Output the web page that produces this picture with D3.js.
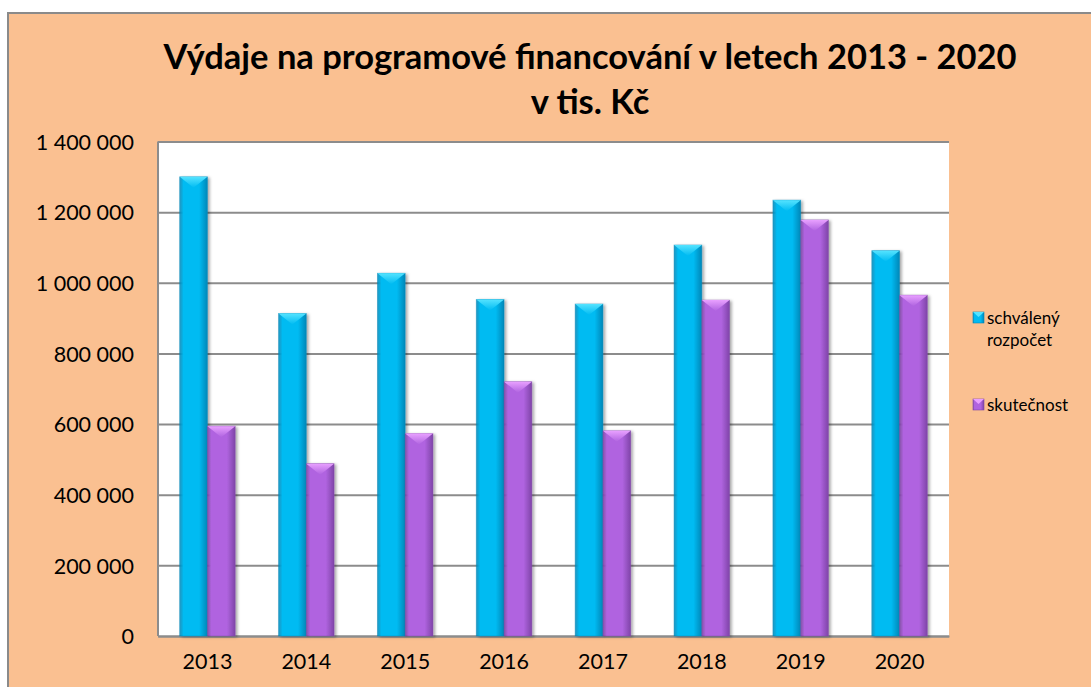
<!DOCTYPE html>
<html lang="cs">
<head>
<meta charset="utf-8">
<title>Výdaje na programové financování</title>
<script src="https://d3js.org/d3.v7.min.js"></script>
<style>
  body { margin: 0; background: #fff; font-family: Lato, "Open Sans", sans-serif; }
  svg text { font-family: Lato, "Open Sans", sans-serif; fill: #000; }
</style>
</head>
<body>
<div id="chart"></div>
<script>
// data (tis. Kč)
var years = ["2013", "2014", "2015", "2016", "2017", "2018", "2019", "2020"];
var schvaleny = [1300000, 913000, 1027000, 953000, 940000, 1107000, 1234000, 1091000];
var skutecnost = [594000, 488000, 573000, 720000, 581000, 951000, 1178000, 965000];
var yTicks = [0, 200000, 400000, 600000, 800000, 1000000, 1200000, 1400000];
var seriesNames = ["schválený rozpočet", "skutečnost"];

var W = 1091, H = 687;
var plot = { left: 158, right: 949, top: 141.5, bottom: 636 };

var series = [
  { name: seriesNames[0], values: schvaleny, main: "#00bbf2", dark: "#0087b8", light: "#55e3ff" },
  { name: seriesNames[1], values: skutecnost, main: "#b064e0", dark: "#7f44a8", light: "#e8a0ff" }
];

var svg = d3.select("#chart").append("svg")
  .attr("width", W).attr("height", H);

var defs = svg.append("defs");
series.forEach(function (s, i) {
  var g = defs.append("linearGradient").attr("id", "bar" + i)
    .attr("x1", 0).attr("x2", 1).attr("y1", 0).attr("y2", 0);
  g.append("stop").attr("offset", "0%").attr("stop-color", s.dark).attr("stop-opacity", 0.85);
  g.append("stop").attr("offset", "14%").attr("stop-color", s.main);
  g.append("stop").attr("offset", "70%").attr("stop-color", s.main);
  g.append("stop").attr("offset", "100%").attr("stop-color", s.dark);
  var t = defs.append("linearGradient").attr("id", "top" + i)
    .attr("x1", 0).attr("x2", 0).attr("y1", 0).attr("y2", 1);
  t.append("stop").attr("offset", "0%").attr("stop-color", s.light);
  t.append("stop").attr("offset", "100%").attr("stop-color", s.main);
});
var sh = defs.append("filter").attr("id", "shadow")
  .attr("x", "-30%").attr("y", "-10%").attr("width", "160%").attr("height", "120%");
sh.append("feDropShadow").attr("dx", 2).attr("dy", 1).attr("stdDeviation", 1.6)
  .attr("flood-color", "#000").attr("flood-opacity", 0.35);

// chart area background
svg.append("rect")
  .attr("x", 8).attr("y", 13).attr("width", W).attr("height", H)
  .attr("fill", "#fac091").attr("stroke", "#8a8a8a").attr("stroke-width", 2);

// title
svg.append("text").attr("x", 590).attr("y", 69)
  .attr("text-anchor", "middle").attr("font-size", 34.5).attr("font-weight", "bold")
  .text("Výdaje na programové financování v letech 2013 - 2020");
svg.append("text").attr("x", 590).attr("y", 114)
  .attr("text-anchor", "middle").attr("font-size", 34.5).attr("font-weight", "bold")
  .text("v tis. Kč");

var x = d3.scaleBand().domain(years).range([plot.left, plot.right]);
var xs = d3.scaleBand().domain([0, 1]).range([0, x.bandwidth()]).paddingOuter(0.78).paddingInner(0);
var y = d3.scaleLinear().domain([0, 1400000]).range([plot.bottom, plot.top]);

svg.append("rect")
  .attr("x", plot.left).attr("y", plot.top)
  .attr("width", plot.right - plot.left).attr("height", plot.bottom - plot.top)
  .attr("fill", "#fff");

var fmt = function (d) { return d3.format(",")(d).replace(/,/g, " "); };

var yAxis = svg.append("g")
  .attr("transform", "translate(" + plot.left + ",0)")
  .call(d3.axisLeft(y).tickValues(yTicks).tickSize(-(plot.right - plot.left)).tickPadding(24).tickFormat(fmt));
yAxis.select(".domain").remove();
yAxis.selectAll(".tick line").attr("stroke", "#8c8c8c").attr("stroke-width", 2);
yAxis.selectAll(".tick text").attr("font-size", 21.5).attr("dy", "0.36em");

svg.append("line")
  .attr("x1", plot.left).attr("x2", plot.left)
  .attr("y1", plot.top).attr("y2", plot.bottom)
  .attr("stroke", "#8c8c8c").attr("stroke-width", 2);

var xAxis = svg.append("g")
  .attr("transform", "translate(0," + plot.bottom + ")")
  .call(d3.axisBottom(x).tickSize(0).tickPadding(18));
xAxis.select(".domain").attr("stroke", "#8c8c8c").attr("stroke-width", 2);
xAxis.selectAll(".tick text").attr("font-size", 21.5).attr("dy", "0.71em");

// bars
series.forEach(function (s, si) {
  var g = svg.append("g");
  var bars = g.selectAll("g.bar").data(years.map(function (yr, i) { return { year: yr, v: s.values[i] }; }))
    .enter().append("g").attr("class", "bar");
  var bw = xs.bandwidth();
  bars.append("rect")
    .attr("x", function (d) { return x(d.year) + xs(si); })
    .attr("y", function (d) { return y(d.v); })
    .attr("width", bw)
    .attr("height", function (d) { return y(0) - y(d.v); })
    .attr("fill", "url(#bar" + si + ")")
    .attr("stroke", s.dark).attr("stroke-opacity", 0.5).attr("stroke-width", 0.8)
    .attr("filter", "url(#shadow)");
  bars.append("path")
    .attr("d", function (d) {
      var x0 = x(d.year) + xs(si), y0 = y(d.v);
      return "M" + x0 + "," + y0 + "L" + (x0 + bw) + "," + y0 + "L" + (x0 + bw / 2) + "," + (y0 + 11) + "Z";
    })
    .attr("fill", "url(#top" + si + ")");
});

// legend
var legend = svg.append("g");
var legY = [318, 405];
series.forEach(function (s, i) {
  legend.append("rect").attr("x", 973).attr("y", legY[i] - 6).attr("width", 11).attr("height", 11)
    .attr("fill", "url(#bar" + i + ")").attr("stroke", s.dark).attr("stroke-width", 0.6);
  legend.append("path")
    .attr("d", "M973," + (legY[i] - 6) + "L984," + (legY[i] - 6) + "L978.5," + (legY[i] - 1) + "Z")
    .attr("fill", s.light);
});
legend.append("text").attr("x", 987).attr("y", 324).attr("font-size", 17).text("schválený");
legend.append("text").attr("x", 987).attr("y", 346).attr("font-size", 17).text("rozpočet");
legend.append("text").attr("x", 987).attr("y", 411).attr("font-size", 17).text("skutečnost");
</script>
</body>
</html>
